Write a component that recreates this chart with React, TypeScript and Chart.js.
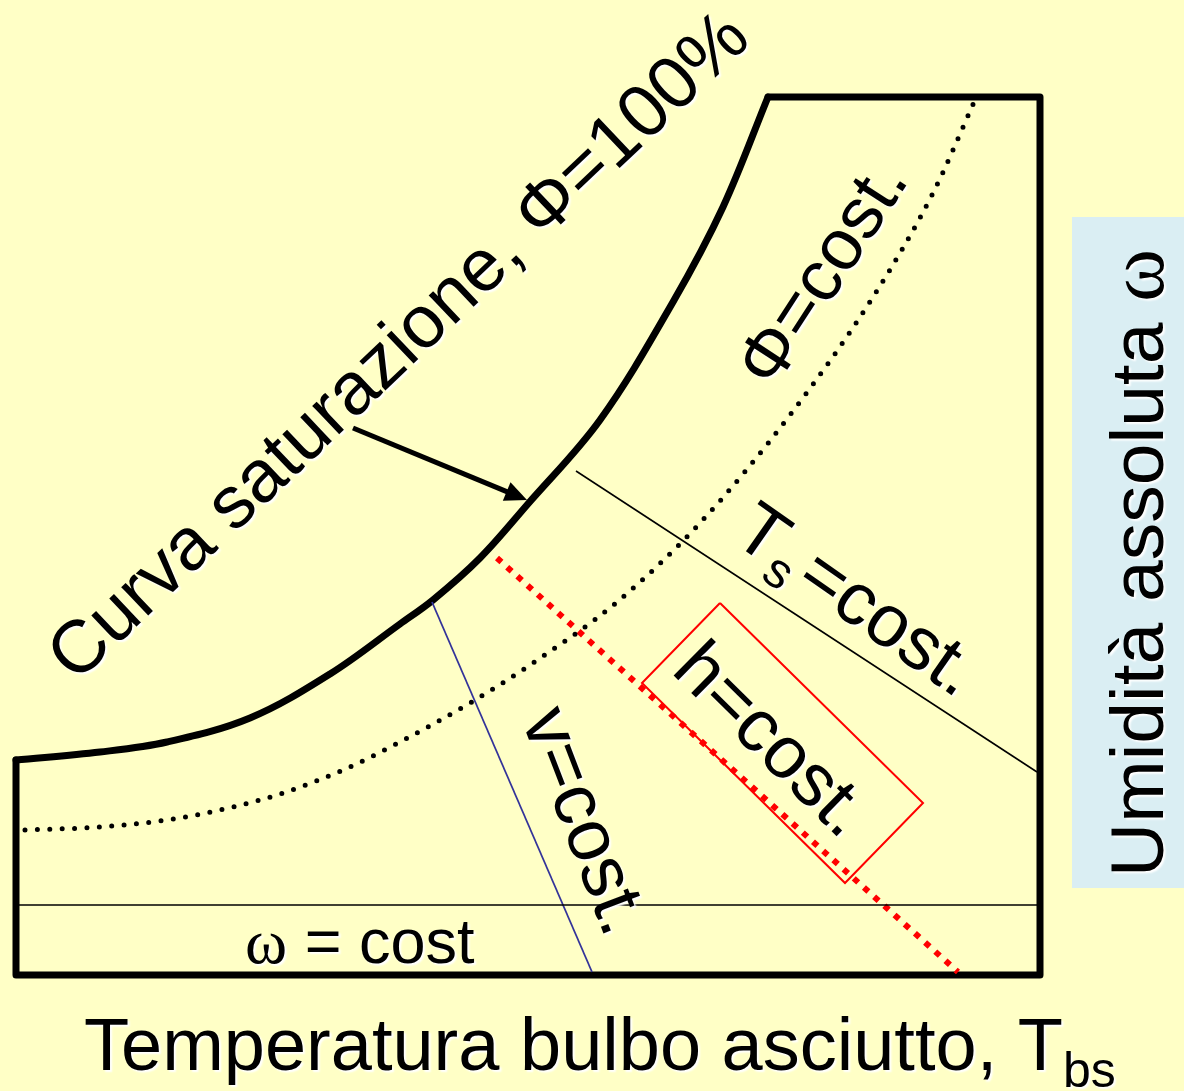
import React, { useEffect, useRef } from "react";
import { Chart, registerables } from "chart.js";

Chart.register(...registerables);

// Schematic psychrometric chart. Coordinates are in chart units:
// x: dry-bulb temperature axis (0..1184), y: absolute humidity axis (0..1091, drawn downward)
const X_MIN = 0;
const X_MAX = 1184;
const Y_MIN = 0;
const Y_MAX = 1091;

// Chart frame (top edge, right edge, bottom edge, left edge up to the saturation curve)
const frameX = [768, 1040, 1040, 16, 16];
const frameY = [97, 97, 975, 975, 760];

// Saturation curve, Φ = 100%
const saturationX = [16, 100, 167, 250, 330, 400, 433, 480, 527, 600, 673, 723, 768];
const saturationY = [760, 752, 742, 718, 674, 624, 600, 558, 505, 420, 302, 207, 97];

// Constant relative humidity curve, Φ = cost.
const phiConstX = [25, 100, 167, 233, 283, 343, 400, 470, 527, 617, 700, 790, 873, 933, 975];
const phiConstY = [830, 827, 820, 807, 793, 770, 742, 703, 667, 602, 523, 415, 297, 193, 100];

// Constant absolute humidity line, ω = cost
const omegaLineX = [18, 1037];
const omegaLineY = [905, 905];

// Constant specific volume line, v = cost.
const volumeLineX = [432, 592];
const volumeLineY = [602, 972];

// Constant enthalpy line, h = cost.
const enthalpyLineX = [497, 958];
const enthalpyLineY = [558, 972];

// Constant saturation temperature line, Ts = cost.
const tsLineX = [576, 1037];
const tsLineY = [471, 772];

// Frame around the h = cost. label
const hBoxX = [720, 923, 845, 642, 720];
const hBoxY = [603, 803, 883, 683, 603];

// Arrow pointing at the saturation curve (tail, tip)
const arrowX = [353, 527];
const arrowY = [428, 500];

// Background box behind the vertical axis title (x0, x1, y0, y1)
const yTitleBoxX = [1072, 1184];
const yTitleBoxY = [217, 888];

const SANS = '"Liberation Sans", Arial, Helvetica, sans-serif';
const SERIF = '"Liberation Serif", "Times New Roman", serif';

type Run = { text: string; size: number; family: string; dy?: number; dx?: number };
type Label = {
  x: number;
  y: number;
  angle: number;
  align: "left" | "right";
  runs: Run[];
};

const labels: Label[] = [
  {
    x: 84, y: 1070, angle: 0, align: "left",
    runs: [
      { text: "Temperatura bulbo asciutto, T", size: 74, family: SANS },
      { text: "bs", size: 50, family: SANS, dy: 17 },
    ],
  },
  {
    x: 1163, y: 877, angle: -90, align: "left",
    runs: [
      { text: "Umidità assoluta ", size: 75, family: SANS },
      { text: "ω", size: 80, family: SERIF },
    ],
  },
  {
    x: 245, y: 963, angle: 0, align: "left",
    runs: [
      { text: "ω", size: 64, family: SERIF },
      { text: " = cost", size: 63, family: SANS },
    ],
  },
  {
    x: 76, y: 684, angle: -43.5, align: "left",
    runs: [{ text: "Curva saturazione, Φ=100%", size: 74, family: SANS }],
  },
  {
    x: 910, y: 180, angle: -57, align: "right",
    runs: [{ text: "Φ=cost.", size: 72, family: SANS }],
  },
  {
    x: 957, y: 699, angle: 35, align: "right",
    runs: [
      { text: "T", size: 74, family: SANS },
      { text: "s", size: 50, family: SANS, dy: 14 },
      { text: "=cost.", size: 74, family: SANS, dx: 7 },
    ],
  },
  {
    x: 670, y: 672, angle: 44.6, align: "left",
    runs: [{ text: "h=cost.", size: 74, family: SANS }],
  },
  {
    x: 521, y: 719, angle: 69, align: "left",
    runs: [{ text: "v=cost.", size: 74, family: SANS }],
  },
];

const toPoints = (xs: number[], ys: number[]) => xs.map((x, i) => ({ x, y: ys[i] }));

const backgroundPlugin = {
  id: "background",
  beforeDraw(chart: any) {
    const { ctx, scales } = chart;
    ctx.save();
    ctx.fillStyle = "#FFFFC6";
    ctx.fillRect(0, 0, chart.width, chart.height);
    const x0 = scales.x.getPixelForValue(yTitleBoxX[0]);
    const x1 = scales.x.getPixelForValue(yTitleBoxX[1]);
    const y0 = scales.y.getPixelForValue(yTitleBoxY[0]);
    const y1 = scales.y.getPixelForValue(yTitleBoxY[1]);
    ctx.fillStyle = "#DAEEF3";
    ctx.fillRect(x0, y0, x1 - x0, y1 - y0);
    ctx.restore();
  },
};

const arrowPlugin = {
  id: "arrow",
  afterDatasetsDraw(chart: any) {
    const { ctx, scales } = chart;
    const tx = scales.x.getPixelForValue(arrowX[0]);
    const ty = scales.y.getPixelForValue(arrowY[0]);
    const hx = scales.x.getPixelForValue(arrowX[1]);
    const hy = scales.y.getPixelForValue(arrowY[1]);
    const len = Math.hypot(hx - tx, hy - ty);
    const ux = (hx - tx) / len;
    const uy = (hy - ty) / len;
    const headLen = 22;
    const headHalf = 10;
    const bx = hx - ux * headLen;
    const by = hy - uy * headLen;
    ctx.save();
    ctx.strokeStyle = "#000";
    ctx.fillStyle = "#000";
    ctx.lineWidth = 5;
    ctx.beginPath();
    ctx.moveTo(tx, ty);
    ctx.lineTo(bx + ux * 2, by + uy * 2);
    ctx.stroke();
    ctx.beginPath();
    ctx.moveTo(hx, hy);
    ctx.lineTo(bx - uy * headHalf, by + ux * headHalf);
    ctx.lineTo(bx + uy * headHalf, by - ux * headHalf);
    ctx.closePath();
    ctx.fill();
    ctx.restore();
  },
};

const labelPlugin = {
  id: "labels",
  afterDatasetsDraw(chart: any) {
    const { ctx, scales } = chart;
    labels.forEach((lab) => {
      const px = scales.x.getPixelForValue(lab.x);
      const py = scales.y.getPixelForValue(lab.y);
      ctx.save();
      ctx.translate(px, py);
      ctx.rotate((lab.angle * Math.PI) / 180);
      ctx.textBaseline = "alphabetic";
      ctx.textAlign = "left";
      ctx.fillStyle = "#000";
      ctx.shadowColor = "rgba(255,255,255,1)";
      ctx.shadowOffsetX = 2;
      ctx.shadowOffsetY = 2;
      ctx.shadowBlur = 2;
      let total = 0;
      const widths = lab.runs.map((r) => {
        ctx.font = `${r.size}px ${r.family}`;
        const w = ctx.measureText(r.text).width + (r.dx || 0);
        total += w;
        return w;
      });
      let cx = lab.align === "right" ? -total : 0;
      lab.runs.forEach((r, i) => {
        ctx.font = `${r.size}px ${r.family}`;
        ctx.fillText(r.text, cx + (r.dx || 0), r.dy || 0);
        cx += widths[i];
      });
      ctx.restore();
    });
  },
};

export default function App() {
  const canvasRef = useRef<HTMLCanvasElement | null>(null);

  useEffect(() => {
    document.body.style.margin = "0";
    const canvas = canvasRef.current;
    if (!canvas) return;
    const base = { showLine: true, pointRadius: 0, pointHoverRadius: 0, fill: false, clip: false as any };
    const chart = new Chart(canvas, {
      type: "scatter",
      data: {
        datasets: [
          {
            ...base,
            label: "ω = cost",
            data: toPoints(omegaLineX, omegaLineY),
            borderColor: "#000",
            borderWidth: 1.6,
          },
          {
            ...base,
            label: "Ts = cost.",
            data: toPoints(tsLineX, tsLineY),
            borderColor: "#000",
            borderWidth: 1.6,
          },
          {
            ...base,
            label: "v = cost.",
            data: toPoints(volumeLineX, volumeLineY),
            borderColor: "#333399",
            borderWidth: 1.8,
          },
          {
            ...base,
            label: "Φ = cost.",
            data: toPoints(phiConstX, phiConstY),
            borderColor: "#000",
            borderWidth: 5,
            borderDash: [0, 12.4],
            borderCapStyle: "round",
            cubicInterpolationMode: "monotone",
          },
          {
            ...base,
            label: "h = cost.",
            data: toPoints(enthalpyLineX, enthalpyLineY),
            borderColor: "#FF0000",
            borderWidth: 6,
            borderDash: [6, 7.7],
            borderCapStyle: "butt",
          },
          {
            ...base,
            label: "h box",
            data: toPoints(hBoxX, hBoxY),
            borderColor: "#FF0000",
            borderWidth: 2,
            borderJoinStyle: "miter",
          },
          {
            ...base,
            label: "frame",
            data: toPoints(frameX, frameY),
            borderColor: "#000",
            borderWidth: 7,
            borderJoinStyle: "round",
            borderCapStyle: "round",
          },
          {
            ...base,
            label: "Φ = 100%",
            data: toPoints(saturationX, saturationY),
            borderColor: "#000",
            borderWidth: 7,
            borderCapStyle: "round",
            tension: 0.35,
          },
        ] as any,
      },
      options: {
        animation: false,
        responsive: false,
        maintainAspectRatio: false,
        events: [],
        layout: { padding: 0 },
        plugins: { legend: { display: false }, tooltip: { enabled: false } },
        scales: {
          x: { type: "linear", min: X_MIN, max: X_MAX, display: false },
          y: { type: "linear", min: Y_MIN, max: Y_MAX, reverse: true, display: false },
        },
      },
      plugins: [backgroundPlugin, arrowPlugin, labelPlugin],
    });
    return () => chart.destroy();
  }, []);

  return (
    <div style={{ position: "fixed", left: 0, top: 0, width: 1184, height: 1091 }}>
      <canvas ref={canvasRef} width={1184} height={1091} style={{ display: "block" }} />
    </div>
  );
}
